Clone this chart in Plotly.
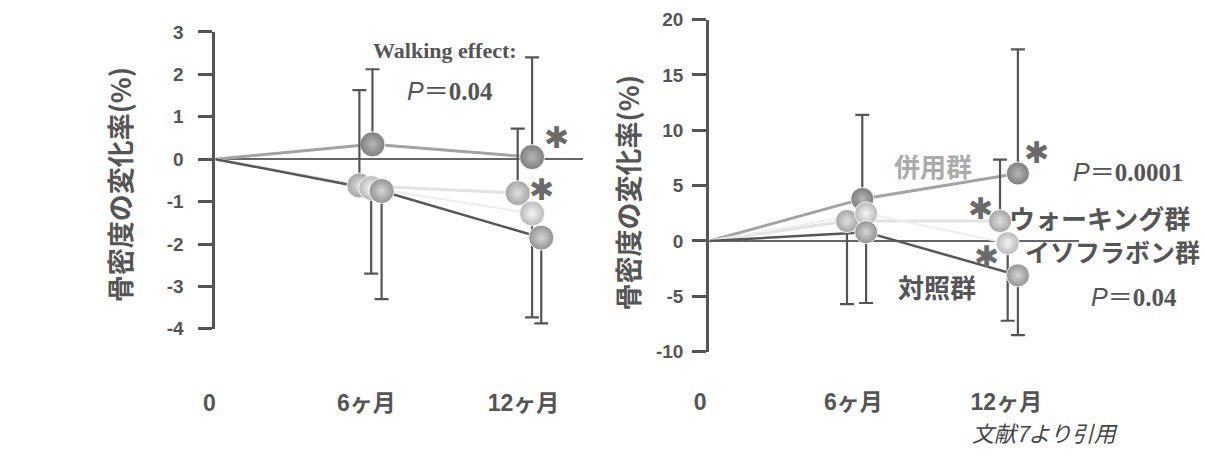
import plotly.graph_objects as go

W, H = 1205, 462

# ---- data -------------------------------------------------------------
months = [0, 6, 12]
month_labels = ["0", "6ヶ月", "12ヶ月"]
groups = ["併用群", "ウォーキング群", "イソフラボン群", "対照群"]

# left panel: mean change in bone density (%) at 0 / 6 / 12 months
left_combined = [0, 0.35, 0.05]
left_walking = [0, -0.62, -0.80]
left_isoflavone = [0, -0.68, -1.28]
left_control = [0, -0.75, -1.85]
# one-sided SD bars at 6 / 12 months (upper, lower)
left_combined_sd_up = [1.77, 2.35]
left_combined_sd_down = [0, 0]
left_walking_sd_up = [2.25, 1.52]
left_walking_sd_down = [0, 0]
left_isoflavone_sd_up = [0, 0]
left_isoflavone_sd_down = [2.02, 2.45]
left_control_sd_up = [0, 0]
left_control_sd_down = [2.55, 2.02]

# right panel
right_combined = [0, 3.8, 6.1]
right_walking = [0, 1.8, 1.8]
right_isoflavone = [0, 2.5, -0.2]
right_control = [0, 0.8, -3.1]
right_combined_sd_up = [7.6, 11.2]
right_combined_sd_down = [0, 0]
right_walking_sd_up = [0, 5.55]
right_walking_sd_down = [7.5, 0]
right_isoflavone_sd_up = [0, 0]
right_isoflavone_sd_down = [0, 7.0]
right_control_sd_up = [0, 0]
right_control_sd_down = [6.4, 5.4]

left_ticks = [3, 2, 1, 0, -1, -2, -3, -4]
right_ticks = [20, 15, 10, 5, 0, -5, -10]

# ---- styling ----------------------------------------------------------
INK = "#555555"
SANS = "Liberation Sans, Arial, Noto Sans CJK JP"
CJK = "Noto Sans CJK JP, Liberation Sans"
SERIF = "Liberation Serif, Times New Roman"
STAR = "#6a6a6a"

# line colour, line width, marker edge colour, marker highlight colour
style = {
    "併用群": ("#a3a3a3", 3, "#7e7e7e", "#b6b6b6"),
    "ウォーキング群": ("#e2e2e2", 3, "#a4a4a4", "#e0e0e0"),
    "イソフラボン群": ("#eeeeee", 2, "#b8b8b8", "#f6f6f6"),
    "対照群": ("#575757", 2.5, "#929292", "#d6d6d6"),
}

# horizontal dodge (months) of each group's markers at 6 / 12 months
left_dodge = {"併用群": [0, 0.1], "ウォーキング群": [-0.5, -0.45],
              "イソフラボン群": [-0.05, 0.1], "対照群": [0.35, 0.45]}
right_dodge = {"併用群": [0, 0.1], "ウォーキング群": [-0.6, -0.6],
               "イソフラボン群": [0.15, -0.3], "対照群": [0.15, 0.1]}

panels = [
    dict(xa="x", ya="y",
         series=[left_combined, left_walking, left_isoflavone, left_control],
         sd_up=[left_combined_sd_up, left_walking_sd_up, left_isoflavone_sd_up, left_control_sd_up],
         sd_down=[left_combined_sd_down, left_walking_sd_down, left_isoflavone_sd_down, left_control_sd_down],
         dodge=left_dodge, msize=25),
    dict(xa="x2", ya="y2",
         series=[right_combined, right_walking, right_isoflavone, right_control],
         sd_up=[right_combined_sd_up, right_walking_sd_up, right_isoflavone_sd_up, right_control_sd_up],
         sd_down=[right_combined_sd_down, right_walking_sd_down, right_isoflavone_sd_down, right_control_sd_down],
         dodge=right_dodge, msize=23),
]

fig = go.Figure()

for p in panels:
    # connecting lines first, so every marker sits on top
    for g, vals in zip(groups, p["series"]):
        lc, lw, _, _ = style[g]
        d = p["dodge"][g]
        xs = [months[0], months[1] + d[0], months[2] + d[1]]
        fig.add_trace(go.Scatter(x=xs, y=vals, mode="lines", xaxis=p["xa"], yaxis=p["ya"],
                                 line=dict(color=lc, width=lw), hoverinfo="skip",
                                 showlegend=False))
    for g, vals, up, dn in zip(groups, p["series"], p["sd_up"], p["sd_down"]):
        _, _, edge, glow = style[g]
        d = p["dodge"][g]
        xs = [months[1] + d[0], months[2] + d[1]]
        fig.add_trace(go.Scatter(
            x=xs, y=vals[1:], mode="markers", name=g, xaxis=p["xa"], yaxis=p["ya"],
            cliponaxis=False, showlegend=False,
            marker=dict(size=p["msize"], color=edge,
                        gradient=dict(type="radial", color=glow),
                        line=dict(color="rgba(255,255,255,0.85)", width=1)),
            error_y=dict(type="data", symmetric=False, array=up, arrayminus=dn,
                         color=INK, thickness=2.2, width=7),
        ))


def px_domain_x(a, b):
    return [a / W, b / W]


def px_domain_y(top, bottom):
    return [1 - bottom / H, 1 - top / H]


def bold(labels):
    return ["<b>%s</b>" % s for s in labels]


axis_common = dict(showgrid=False, fixedrange=True)
xfont = dict(family=SANS, size=23, color=INK)
yfont = dict(family=SANS, size=19, color=INK)

fig.update_layout(
    width=W, height=H, margin=dict(l=0, r=0, t=0, b=0),
    paper_bgcolor="white", plot_bgcolor="white",
    font=dict(family=SANS, color=INK),
    xaxis=dict(domain=px_domain_x(203, 575), range=[0, 14.04], anchor="y",
               tickvals=months, ticktext=bold(month_labels), ticks="", showline=False,
               zeroline=False, ticklabelstandoff=58, ticklabelshift=-6,
               tickfont=xfont, **axis_common),
    yaxis=dict(domain=px_domain_y(23, 334), range=[-4, 3], anchor="x",
               tickvals=left_ticks, ticktext=bold([str(v) for v in left_ticks]),
               ticks="outside", ticklen=14, tickwidth=3, tickcolor=INK,
               showline=True, linecolor=INK, linewidth=3,
               zeroline=True, zerolinecolor="#666666", zerolinewidth=1.5,
               ticklabelstandoff=11, tickfont=yfont, **axis_common),
    xaxis2=dict(domain=px_domain_x(703, 1077), range=[0, 14.48], anchor="y2",
                tickvals=months, ticktext=bold(month_labels), ticks="", showline=False,
                zeroline=False, ticklabelstandoff=34, ticklabelshift=-9,
                tickfont=xfont, **axis_common),
    yaxis2=dict(domain=px_domain_y(10, 358), range=[-10, 20], anchor="x2",
                tickvals=right_ticks, ticktext=bold([str(v) for v in right_ticks]),
                ticks="outside", ticklen=14, tickwidth=3, tickcolor=INK,
                showline=True, linecolor=INK, linewidth=3,
                zeroline=True, zerolinecolor="#666666", zerolinewidth=1.5,
                ticklabelstandoff=5, tickfont=yfont, **axis_common),
)


def note(text, px, py, size, color=INK, family=CJK, angle=0, **kw):
    fig.add_annotation(text=text, x=px / W, y=1 - py / H, xref="paper", yref="paper",
                       xanchor="center", yanchor="middle", showarrow=False, textangle=angle,
                       font=dict(family=family, size=size, color=color), **kw)


def star(px, py):
    # significance mark
    note("✱", px, py, 30, color=STAR, family="DejaVu Sans")


ytitle = "<b>骨密度の変化率(%)</b>"
note(ytitle, 106, 183, 27, angle=-90)
note(ytitle, 620, 192, 27, angle=-90)

p_eq = '<i>P</i>＝<span style="font-family:Liberation Serif"><b>{}</b></span>'

# left panel annotations
note("<b>Walking effect:</b>", 435, 42, 22, family=SERIF)
note(p_eq.format("0.04"), 440, 85, 25, family="Liberation Sans, Noto Sans CJK JP")
star(548, 134)
star(533, 188)

# right panel annotations
note("<b>併用群</b>", 930, 163, 26, color="#ababab")
note("<b>ウォーキング群</b>", 1098, 217, 26)
note("<b>イソフラボン群</b>", 1111, 252, 25)
note("<b>対照群</b>", 934, 290, 26)
note(p_eq.format("0.0001"), 1127, 170, 25, family="Liberation Sans, Noto Sans CJK JP")
note(p_eq.format("0.04"), 1133, 301, 25, family="Liberation Sans, Noto Sans CJK JP")
star(1034, 149)
star(978, 208)
star(984, 258)
note("<i>文献7より引用</i>", 1043, 442, 22, color="#444444")

fig.write_html("out.html")
